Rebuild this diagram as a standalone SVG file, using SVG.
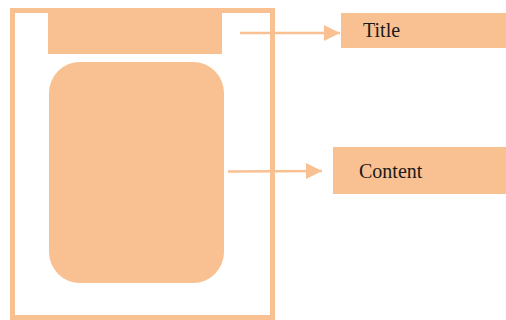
<svg xmlns="http://www.w3.org/2000/svg" width="506" height="320" viewBox="0 0 506 320">
<defs>
<style>
.f{fill:#F9C191}
.ln{stroke:#F9C191;stroke-width:2.5;fill:none}
.t{font-family:"Liberation Serif",serif;font-size:20px;fill:#1a1a1a}
</style>
<marker id="ah" markerWidth="16" markerHeight="16" refX="16" refY="8" markerUnits="userSpaceOnUse" orient="auto">
<path d="M0,0 L16,8 L0,16 Z" fill="#F9C191"/>
</marker>
</defs>
<g id="frame">
<rect x="12.5" y="10.5" width="260" height="307" fill="none" stroke="#F9C191" stroke-width="5"/>
</g>
<g id="titlebar"><rect class="f" x="48" y="13" width="174" height="41"/></g>
<g id="contentarea"><rect class="f" x="49" y="62" width="175" height="221" rx="31" ry="31"/></g>
<g id="title"><rect class="f" x="341" y="13" width="165" height="35"/><text class="t" x="363" y="37">Title</text></g>
<g id="content"><rect class="f" x="333" y="147" width="173" height="47"/><text class="t" x="359" y="178">Content</text></g>
<g id="connectors">
<line class="ln" x1="240" y1="33" x2="340" y2="33" marker-end="url(#ah)"/>
<line class="ln" x1="228" y1="171.5" x2="322" y2="171" marker-end="url(#ah)"/>
</g>
</svg>
